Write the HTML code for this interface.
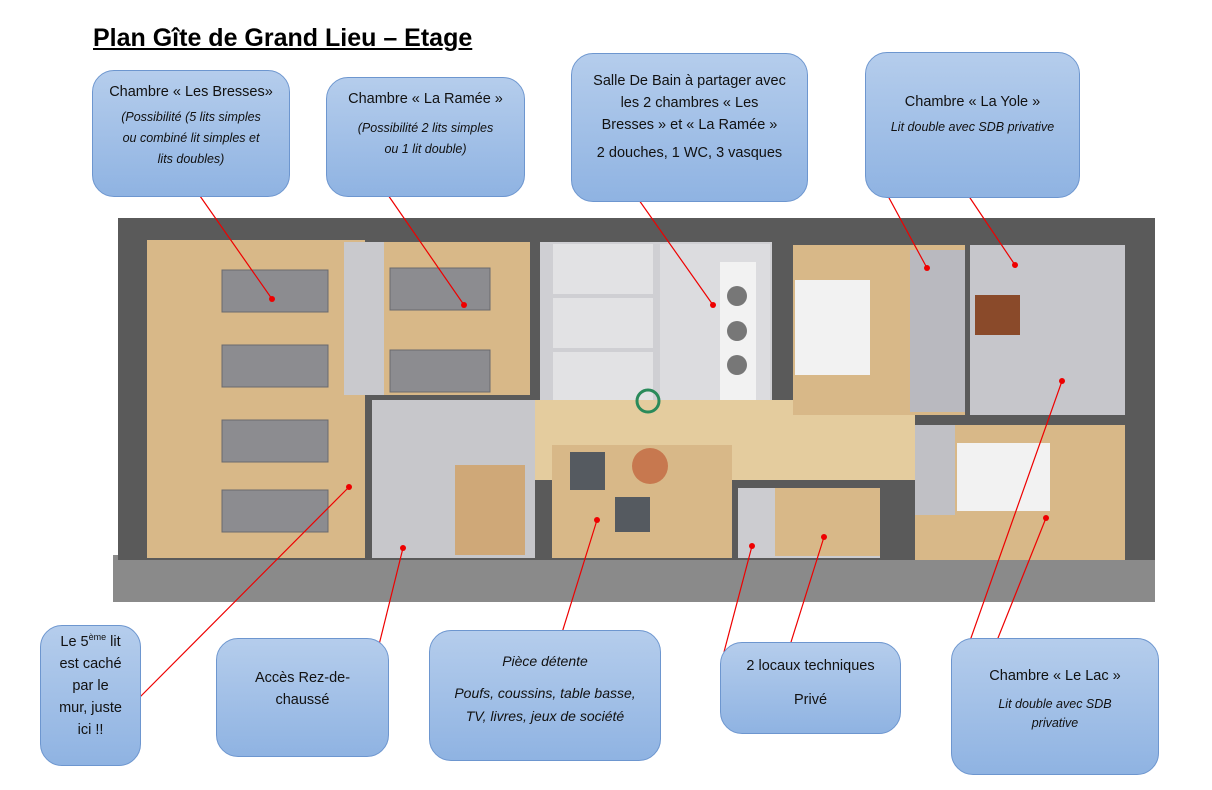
<!DOCTYPE html>
<html><head><meta charset="utf-8"><style>
body{margin:0;width:1212px;height:790px;background:#fff;position:relative;overflow:hidden;font-family:"Liberation Sans",sans-serif}
.t{position:absolute;left:93px;top:24px;font-size:25px;font-weight:bold;text-decoration:underline;color:#000}
.b{position:absolute;box-sizing:border-box;border:1.5px solid #6d96cf;border-radius:22px;background:linear-gradient(#b5cdec,#8fb3e2);text-align:center;color:#111;font-size:14.5px;line-height:22px;padding-top:10px}
.b i{font-size:12.5px;line-height:21px;display:block}
svg{position:absolute;left:0;top:0}
</style></head><body>
<div class="t">Plan Gîte de Grand Lieu – Etage</div>
<svg width="1212" height="790">
<rect x="113" y="555" width="1042" height="47" fill="#8a8a8a"/>
<rect x="118" y="218" width="1037" height="342" fill="#5a5a5a"/>
<!-- rooms -->
<rect x="147" y="240" width="218" height="318" fill="#d8b888"/>
<rect x="344" y="242" width="186" height="153" fill="#d8b888"/>
<rect x="344" y="242" width="40" height="153" fill="#c9c9cd"/>
<rect x="540" y="242" width="232" height="163" fill="#cfcfd3"/>
<rect x="553" y="244" width="100" height="50" fill="#e2e2e4"/>
<rect x="553" y="298" width="100" height="50" fill="#e2e2e4"/>
<rect x="553" y="352" width="100" height="50" fill="#e2e2e4"/>
<rect x="660" y="244" width="110" height="158" fill="#dcdcdf"/>
<rect x="720" y="262" width="36" height="140" fill="#f2f2f2"/>
<rect x="372" y="400" width="543" height="80" fill="#e4cc9e"/>
<rect x="372" y="400" width="163" height="158" fill="#c7c7cb"/>
<rect x="455" y="465" width="70" height="90" fill="#cfa878"/>
<rect x="552" y="445" width="180" height="113" fill="#d8b888"/>
<rect x="738" y="488" width="142" height="70" fill="#ccccd0"/>
<rect x="775" y="488" width="105" height="68" fill="#d8b888"/>
<rect x="793" y="245" width="172" height="170" fill="#d8b888"/>
<rect x="910" y="250" width="55" height="162" fill="#b9b9bf"/>
<rect x="970" y="245" width="155" height="170" fill="#c6c6cb"/>
<rect x="975" y="295" width="45" height="40" fill="#8a4a2a"/>
<rect x="915" y="425" width="210" height="135" fill="#d8b888"/>
<rect x="915" y="425" width="40" height="90" fill="#c0c0c5"/>
<!-- beds -->
<g fill="#8c8c90" stroke="#6a6a6e">
<rect x="222" y="270" width="106" height="42"/><rect x="222" y="345" width="106" height="42"/>
<rect x="222" y="420" width="106" height="42"/><rect x="222" y="490" width="106" height="42"/>
<rect x="390" y="268" width="100" height="42"/><rect x="390" y="350" width="100" height="42"/>
</g>
<g fill="#f2f2f2"><rect x="795" y="280" width="75" height="95"/><rect x="957" y="443" width="93" height="68"/></g>
<g fill="#555a60"><rect x="570" y="452" width="35" height="38"/><rect x="615" y="497" width="35" height="35"/></g>
<circle cx="650" cy="466" r="18" fill="#c7784f"/>
<circle cx="737" cy="296" r="10" fill="#777"/><circle cx="737" cy="331" r="10" fill="#777"/><circle cx="737" cy="365" r="10" fill="#777"/>
<circle cx="648" cy="401" r="11" fill="none" stroke="#2a8a5a" stroke-width="3"/>
<!-- arrows -->
<g stroke="#e00" stroke-width="1.2">
<line x1="193" y1="186" x2="272" y2="299"/><line x1="388" y1="195" x2="464" y2="305"/>
<line x1="634" y1="193" x2="713" y2="305"/><line x1="882" y1="185" x2="927" y2="268"/>
<line x1="960" y1="183" x2="1015" y2="265"/><line x1="140" y1="697" x2="349" y2="487"/>
<line x1="376" y1="657" x2="403" y2="548"/><line x1="556" y1="652" x2="597" y2="520"/>
<line x1="724" y1="652" x2="752" y2="546"/><line x1="786" y1="658" x2="824" y2="537"/>
<line x1="966" y1="652" x2="1062" y2="381"/><line x1="986" y1="668" x2="1046" y2="518"/>
</g>
<g fill="#e00">
<circle cx="272" cy="299" r="3"/><circle cx="464" cy="305" r="3"/><circle cx="713" cy="305" r="3"/><circle cx="927" cy="268" r="3"/><circle cx="1015" cy="265" r="3"/><circle cx="349" cy="487" r="3"/><circle cx="403" cy="548" r="3"/><circle cx="597" cy="520" r="3"/><circle cx="752" cy="546" r="3"/><circle cx="824" cy="537" r="3"/><circle cx="1062" cy="381" r="3"/><circle cx="1046" cy="518" r="3"/>
</g>
</svg>
<div class="b" style="left:92px;top:70px;width:198px;height:127px;padding-top:10px">Chambre « Les Bresses»<i style="margin-top:4px">(Possibilité (5 lits simples<br>ou combiné lit simples et<br>lits doubles)</i></div>
<div class="b" style="left:326px;top:77px;width:199px;height:120px;padding-top:10px">Chambre « La Ramée »<i style="margin-top:8px">(Possibilité 2 lits simples<br>ou 1 lit double)</i></div>
<div class="b" style="left:571px;top:53px;width:237px;height:149px;padding-top:16px">Salle De Bain à partager avec<br>les 2 chambres « Les<br>Bresses » et « La Ramée »<div style="margin-top:6px">2 douches, 1 WC, 3 vasques</div></div>
<div class="b" style="left:865px;top:52px;width:215px;height:146px;padding-top:38px">Chambre « La Yole »<i style="margin-top:4px">Lit double avec SDB privative</i></div>
<div class="b" style="left:40px;top:625px;width:101px;height:141px;padding-top:0;line-height:22px">Le 5<sup style="font-size:9px">ème</sup> lit<br>est caché<br>par le<br>mur, juste<br>ici !!</div>
<div class="b" style="left:216px;top:638px;width:173px;height:119px;padding-top:28px">Accès Rez-de-<br>chaussé</div>
<div class="b" style="left:429px;top:630px;width:232px;height:131px;padding-top:20px"><i style="font-size:14px">Pièce détente</i><i style="font-size:14px;margin-top:10px;line-height:23px">Poufs, coussins, table basse,<br>TV, livres, jeux de société</i></div>
<div class="b" style="left:720px;top:642px;width:181px;height:92px;padding-top:12px">2 locaux techniques<div style="margin-top:12px">Privé</div></div>
<div class="b" style="left:951px;top:638px;width:208px;height:137px;padding-top:26px">Chambre « Le Lac »<i style="margin-top:8px;line-height:19px">Lit double avec SDB<br>privative</i></div>
</body></html>
